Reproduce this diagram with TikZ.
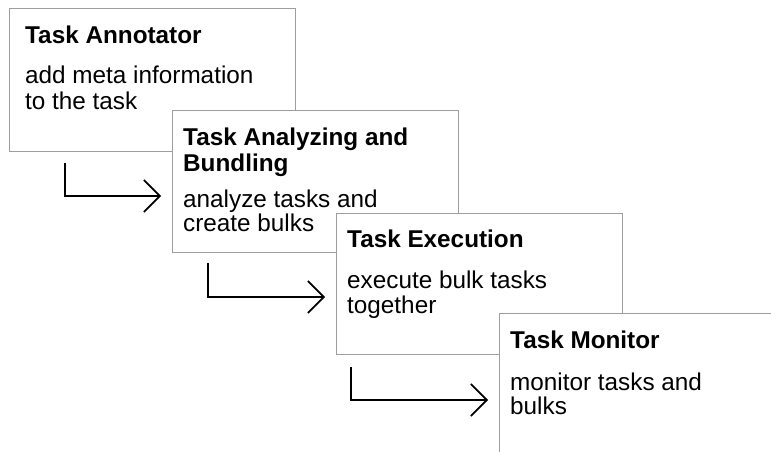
\documentclass[tikz,border=0pt]{standalone}
\usepackage{fontspec}
\setmainfont{Liberation Sans}
\usetikzlibrary{arrows.meta}
\begin{document}
\begin{tikzpicture}[x=1pt,y=-1pt,
  stagebox/.style={draw=black!38, line width=1.3pt, fill=white, rectangle, anchor=north west, inner sep=0pt},
  ttl/.style={anchor=base west, inner sep=0pt, font=\fontsize{24.3}{26.5}\selectfont\bfseries},
  bdy/.style={anchor=base west, inner sep=0pt, font=\fontsize{24.3}{26.5}\selectfont},
  flow/.style={draw=black, line width=1.6pt, -{Straight Barb[length=16pt,width=32pt,line width=1.6pt]}}]
\useasboundingbox (0,0) rectangle (771,452);
\fill[white] (0,0) rectangle (771,452);
\clip (0,0) rectangle (771,452);
% Box 1
\node[stagebox, minimum width=286pt, minimum height=143pt] (box1) at (9,8) {};
\node[ttl] (t1) at (25,44) {Task Annotator};
\node[bdy] (b1a) at (25,83) {add meta information};
\node[bdy] (b1b) at (25,110) {to the task};
% Box 2
\node[stagebox, minimum width=286pt, minimum height=142pt] (box2) at (172,110) {};
\node[ttl] (t2a) at (183,145) {Task Analyzing and};
\node[ttl] (t2b) at (183,171) {Bundling};
\node[bdy] (b2a) at (183,207) {analyze tasks and};
\node[bdy] (b2b) at (183,231) {create bulks};
% Box 3
\node[stagebox, minimum width=286pt, minimum height=141pt] (box3) at (336,213) {};
\node[ttl] (t3) at (347,247) {Task Execution};
\node[bdy] (b3a) at (347,288) {execute bulk tasks};
\node[bdy] (b3b) at (347,313) {together};
% Box 4
\node[stagebox, minimum width=320pt, minimum height=180pt] (box4) at (499,313) {};
\node[ttl] (t4) at (510,348) {Task Monitor};
\node[bdy] (b4a) at (510,390) {monitor tasks and};
\node[bdy] (b4b) at (510,414) {bulks};
% Connectors
\coordinate (s1) at ([shift={(56,11)}]box1.south west);
\coordinate (e1) at ([shift={(-11,0)}]box2.west |- 0,196);
\coordinate (s2) at ([shift={(36,10)}]box2.south west);
\coordinate (e2) at ([shift={(-11,0)}]box3.west |- 0,297);
\coordinate (s3) at ([shift={(15,12)}]box3.south west);
\coordinate (e3) at ([shift={(-11,0)}]box4.west |- 0,400);
\draw[flow] (s1) |- (e1);
\draw[flow] (s2) |- (e2);
\draw[flow] (s3) |- (e3);
\end{tikzpicture}
\end{document}
